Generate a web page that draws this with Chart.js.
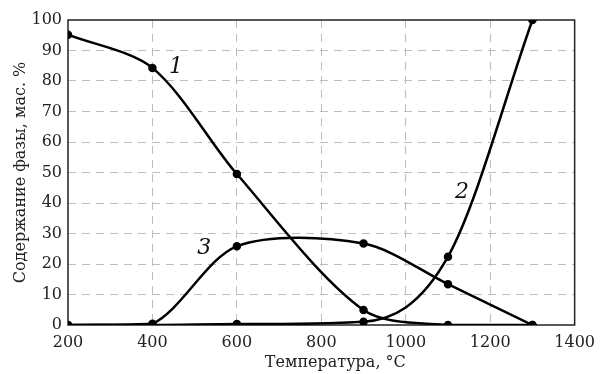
<!DOCTYPE html>
<html>
<head>
<meta charset="utf-8">
<script src="https://cdn.jsdelivr.net/npm/chart.js@4/dist/chart.umd.min.js"></script>
<style>
html,body{margin:0;padding:0;background:#fff;}
#wrap{width:603px;height:374px;position:relative;}
</style>
</head>
<body>
<div id="wrap"><canvas id="c" width="603" height="374"></canvas></div>
<script>
// Data
const temperatures = [200, 400, 600, 900, 1100, 1300];
const phase1 = [95.2, 84.3, 49.5, 4.9, 0, 0];
const phase2 = [0, 0, 0.3, 1.1, 22.4, 100];
const phase3 = [0, 0.4, 25.8, 26.7, 13.4, 0];
const xTicks = [200, 400, 600, 800, 1000, 1200, 1400];
const yTicks = [0, 10, 20, 30, 40, 50, 60, 70, 80, 90, 100];
const curveLabels = [
  {text: '1', x: 456, y: 84.6},
  {text: '2', x: 1133, y: 43.6},
  {text: '3', x: 523, y: 25.2}
];
const xTitle = 'Температура, °C';
const yTitle = 'Содержание фазы, мас. %';

const FONT = "'DejaVu Serif', 'Liberation Serif', serif";
const toXY = arr => temperatures.map((t, i) => ({x: t, y: arr[i]}));

const frame = {
  id: 'frame',
  beforeDatasetsDraw(chart) {
    const {ctx, chartArea: a} = chart;
    ctx.save();
    ctx.strokeStyle = '#222';
    ctx.lineWidth = 1.5;
    ctx.strokeRect(a.left, a.top, a.right - a.left, a.bottom - a.top);
    ctx.restore();
  },
  afterDatasetsDraw(chart) {
    const {ctx, scales, chartArea: a} = chart;
    ctx.save();
    ctx.fillStyle = '#111';
    ctx.font = "italic 22px " + FONT;
    ctx.textAlign = 'center';
    ctx.textBaseline = 'middle';
    curveLabels.forEach(l => {
      ctx.fillText(l.text, scales.x.getPixelForValue(l.x), scales.y.getPixelForValue(l.y));
    });
    // x axis title (slightly right of centre, as in the reference)
    ctx.font = "16px " + FONT;
    ctx.fillStyle = '#222';
    ctx.textBaseline = 'alphabetic';
    ctx.fillText(xTitle, (a.left + a.right) / 2 + 14, 367);
    ctx.restore();
  }
};

const common = {
  borderColor: '#000',
  backgroundColor: '#000',
  borderWidth: 2.5,
  pointRadius: 3,
  pointHoverRadius: 3,
  fill: false
};

new Chart(document.getElementById('c'), {
  type: 'line',
  data: {
    datasets: [
      Object.assign({label: '1', data: toXY(phase1), tension: 0.3}, common),
      Object.assign({label: '2', data: toXY(phase2), cubicInterpolationMode: 'monotone'}, common),
      Object.assign({label: '3', data: toXY(phase3), tension: 0.3}, common)
    ]
  },
  options: {
    responsive: false,
    animation: false,
    events: [],
    layout: {padding: {top: 20, right: 28, left: 0, bottom: 0}},
    plugins: {legend: {display: false}, tooltip: {enabled: false}},
    scales: {
      x: {
        type: 'linear',
        min: 200, max: 1400,
        afterBuildTicks: s => { s.ticks = xTicks.map(v => ({value: v})); },
        afterFit: s => { s.height = 49; },
        ticks: {color: '#222', font: {family: FONT, size: 16}, padding: 8, maxRotation: 0,
                callback: v => String(v)},
        grid: {
          drawTicks: false,
          color: c => (c.tick && (c.tick.value === 200 || c.tick.value === 1400)) ? 'rgba(0,0,0,0)' : '#bdbdbd',
          lineWidth: 1
        },
        border: {display: false, dash: [8, 6]},
        title: {display: false}
      },
      y: {
        min: 0, max: 100,
        afterBuildTicks: s => { s.ticks = yTicks.map(v => ({value: v})); },
        afterFit: s => { s.width = 68; },
        ticks: {color: '#222', font: {family: FONT, size: 16}, padding: 6, callback: v => String(v)},
        grid: {
          drawTicks: false,
          color: c => (c.tick && (c.tick.value === 0 || c.tick.value === 100)) ? 'rgba(0,0,0,0)' : '#bdbdbd',
          lineWidth: 1
        },
        border: {display: false, dash: [8, 6]},
        title: {display: true, text: yTitle, color: '#222', font: {family: FONT, size: 16}, padding: {top: 11, bottom: 0}}
      }
    }
  },
  plugins: [frame]
});
</script>
</body>
</html>
